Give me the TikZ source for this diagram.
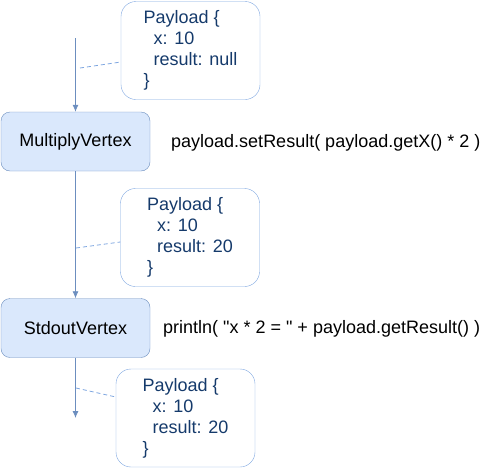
\documentclass[tikz,border=0pt]{standalone}
\usepackage{fontspec}
\setmainfont{Liberation Sans}
\newfontfamily\plainsans{Liberation Sans}
\usetikzlibrary{arrows.meta,calc}
\definecolor{vfill}{HTML}{DAE8FC}
\definecolor{vdraw}{HTML}{6C8EBF}
\definecolor{cdraw}{HTML}{7EA6E0}
\definecolor{ctext}{HTML}{153A6B}
\tikzset{
  vertexbox/.style={draw=vdraw, fill=vfill, rounded corners=9pt, minimum width=149pt, minimum height=59pt, inner sep=0pt, font=\fontsize{18}{21}\selectfont, text=black},
  callout/.style={draw=cdraw, rounded corners=15pt, minimum width=139pt, minimum height=98pt, inner sep=0pt, align=left, text=ctext, font=\fontsize{18}{21}\selectfont},
  codetext/.style={anchor=west, inner sep=0pt, text=black, font=\plainsans\fontsize{18}{21}\selectfont},
  flow/.style={draw=vdraw, line width=0.8pt, -{Latex[length=7pt,width=6pt]}},
  dashlink/.style={draw=cdraw, line width=0.8pt, dashed, dash pattern=on 4pt off 3pt}
}
\begin{document}
\begin{tikzpicture}[x=1pt,y=-1pt]
\useasboundingbox (0,0) rectangle (501,469);
\node[callout] (c1) at (190.5,50.5) {Payload \{\\\hspace{10pt}x: 10\\\hspace{10pt}result: null\\\}};
\node[vertexbox] (mv) at (75.5,141.5) {MultiplyVertex};
\node[codetext] (t1) at (171,143) {payload.setResult( payload.getX() * 2 )};
\node[callout] (c2) at (190,237.5) {Payload \{\\\hspace{10pt}x: 10\\\hspace{10pt}result: 20\\\}};
\node[vertexbox] (sv) at (75.5,328) {StdoutVertex};
\node[codetext] (t2) at (163,329) {println( "x * 2 = " + payload.getResult() )};
\node[callout] (c3) at (185.5,418) {Payload \{\\\hspace{10pt}x: 10\\\hspace{10pt}result: 20\\\}};
\coordinate (s0) at (75.5,38);
\coordinate (e0) at (75.5,418);
\coordinate (d1) at (80,68);
\coordinate (d2) at (76,248);
\coordinate (d3) at (76,388);
\draw[flow] (s0) -- (mv.north);
\draw[flow] (mv.south) -- (sv.north);
\draw[flow] (sv.south) -- (e0);
\draw[dashlink] (d1) -- ([yshift=-11.5pt]c1.west);
\draw[dashlink] (d2) -- ([yshift=-4.5pt]c2.west);
\draw[dashlink] (d3) -- ([yshift=21pt]c3.west);
\end{tikzpicture}
\end{document}
